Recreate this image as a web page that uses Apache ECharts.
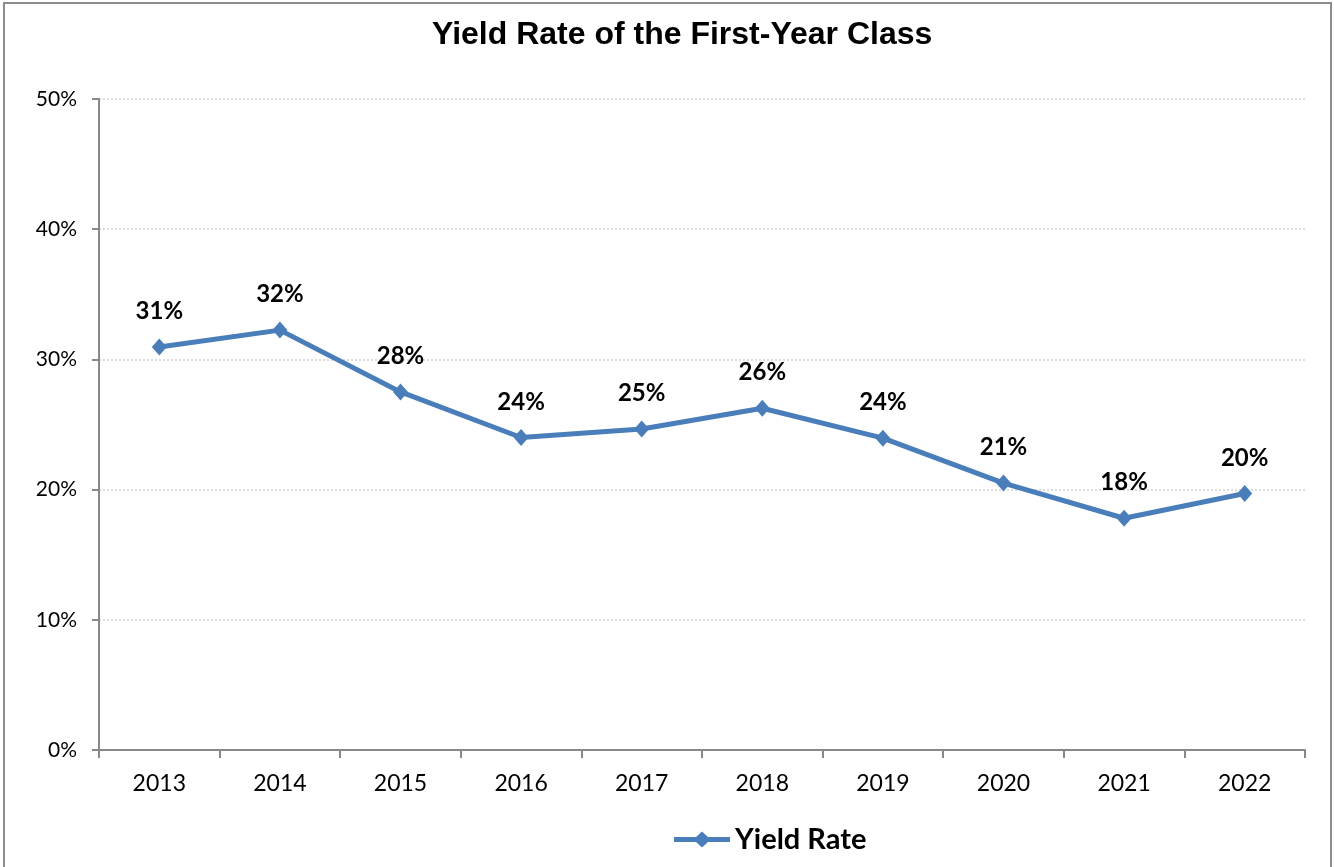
<!DOCTYPE html>
<html>
<head>
<meta charset="utf-8">
<script src="https://cdn.jsdelivr.net/npm/echarts@6/dist/echarts.min.js"></script>
<style>html,body{margin:0;padding:0;background:#fff}#c{width:1334px;height:867px}</style>
</head>
<body>
<div id="c"></div>
<script>
const categories = ['2013','2014','2015','2016','2017','2018','2019','2020','2021','2022'];
const yieldRate = [30.95, 32.25, 27.5, 24.0, 24.65, 26.25, 23.95, 20.5, 17.8, 19.7];
const yTicks = [0, 10, 20, 30, 40, 50];

const chart = echarts.init(document.getElementById('c'), null, {renderer: 'canvas'});
chart.setOption({
  backgroundColor: '#fff',
  animation: false,
  title: {
    text: 'Yield Rate of the First-Year Class',
    left: 427, top: 14,
    textStyle: {fontFamily: 'Liberation Sans, Arial', fontWeight: 'bold', fontSize: 32, color: '#000'}
  },
  graphic: [{
    type: 'rect', shape: {x: 4, y: 3, width: 1327, height: 880},
    style: {fill: 'none', stroke: '#8c8c8c', lineWidth: 2}, silent: true
  }],
  legend: {
    bottom: 8, left: 669,
    itemWidth: 56, itemHeight: 16,
    icon: 'path://M0,5.5 L22,5.5 L28,0 L34,5.5 L56,5.5 L56,10.5 L34,10.5 L28,16 L22,10.5 L0,10.5 Z',
    textStyle: {fontFamily: 'Lato, Carlito, Open Sans', fontWeight: 'bold', fontSize: 29, color: '#000'},
    itemGap: 4,
    data: ['Yield Rate']
  },
  grid: {left: 99, right: 29, top: 99, bottom: 117, containLabel: false},
  xAxis: {
    type: 'category', data: categories, boundaryGap: true,
    axisLine: {lineStyle: {color: '#888', width: 2}},
    axisTick: {show: true, length: 8, lineStyle: {color: '#888', width: 2}},
    axisLabel: {fontFamily: 'Lato, Carlito, Open Sans', fontSize: 23, color: '#000', margin: 22}
  },
  yAxis: {
    type: 'value', min: 0, max: 50, interval: 10,
    axisLine: {show: true, lineStyle: {color: '#888', width: 2}},
    axisTick: {show: true, length: 7, lineStyle: {color: '#888', width: 2}},
    axisLabel: {fontFamily: 'Lato, Carlito, Open Sans', fontSize: 21, color: '#000', margin: 22,
      formatter: v => yTicks.includes(v) ? v + '%' : ''},
    splitLine: {show: true, lineStyle: {color: '#cfcfcf', type: [2, 2], width: 1.5}}
  },
  series: [{
    name: 'Yield Rate', type: 'line', data: yieldRate,
    symbol: 'diamond', symbolSize: [15, 17],
    lineStyle: {color: '#4A7EBB', width: 5},
    itemStyle: {color: '#4A7EBB'},
    label: {show: true, position: 'top', distance: 15,
      fontFamily: 'Lato, Carlito, Open Sans', fontWeight: 'bold', fontSize: 24, color: '#000',
      formatter: p => Math.round(p.value) + '%'}
  }]
});
</script>
</body>
</html>
